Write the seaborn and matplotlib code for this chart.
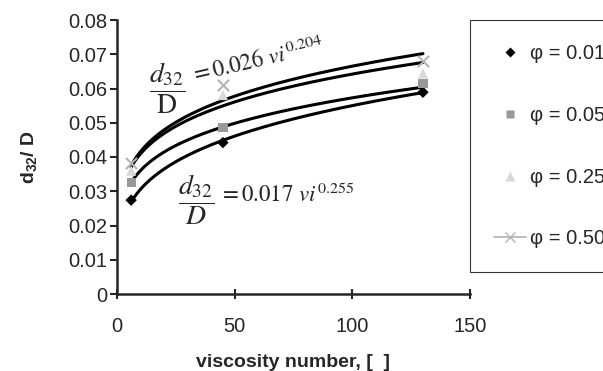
import numpy as np
import pandas as pd
import matplotlib
matplotlib.use("Agg")
import matplotlib.pyplot as plt
from matplotlib.lines import Line2D
import seaborn as sns

# === Data ===
vi = [6, 45, 130]
phi_labels = ["φ = 0.01", "φ = 0.05", "φ = 0.25", "φ = 0.50"]
d32_phi001 = [0.0274, 0.0442, 0.0589]
d32_phi005 = [0.0326, 0.0486, 0.0615]
d32_phi025 = [0.0360, 0.0581, 0.0644]
d32_phi050 = [0.0382, 0.0610, 0.0680]

# power-law trendline coefficients d32/D = a * vi^b
trend_a = [0.017, 0.0227, 0.0261, 0.026]
trend_b = [0.255, 0.201, 0.1955, 0.204]

series = [d32_phi001, d32_phi005, d32_phi025, d32_phi050]
markers = ["D", "s", "^", "x"]
colors = ["#000000", "#999999", "#d9d9d9", "#b3b3b3"]
sizes = [34, 44, 55, 65]

df = pd.concat(
    [pd.DataFrame({"vi": vi, "d32": s, "phi": lab}) for s, lab in zip(series, phi_labels)],
    ignore_index=True,
)

sns.set_style("ticks")
plt.rcParams["font.family"] = ["Liberation Sans", "DejaVu Sans"]
plt.rcParams["mathtext.fontset"] = "custom"
plt.rcParams["mathtext.rm"] = "Liberation Sans"
plt.rcParams["mathtext.bf"] = "Liberation Sans:bold"
plt.rcParams["mathtext.it"] = "Liberation Sans:italic"

fig = plt.figure(figsize=(6.03, 3.71), dpi=100)
ax = fig.add_axes([117 / 603, 1 - 294 / 371, (470 - 117) / 603, (294 - 20) / 371])

# trend curves
grid = np.linspace(vi[0], vi[-1], 200)
for a, b in zip(trend_a, trend_b):
    sns.lineplot(x=grid, y=a * grid ** b, ax=ax, color="black", lw=2.2, zorder=2)

# data points
for lab, m, c, s in zip(phi_labels, markers, colors, sizes):
    sub = df[df["phi"] == lab]
    if m == "x":
        ax.scatter(sub["vi"], sub["d32"], marker=m, s=s, color=c, linewidths=1.5, zorder=3)
    else:
        sns.scatterplot(data=sub, x="vi", y="d32", marker=m, s=s, color=c,
                        edgecolor="none", ax=ax, zorder=3, legend=False)

ax.set_xlim(0, 150)
ax.set_ylim(0, 0.08)
ax.set_xticks([0, 50, 100, 150])
ax.set_yticks(np.arange(0, 0.081, 0.01))
ax.set_yticklabels(["0"] + [f"{v:.2f}" for v in np.arange(0.01, 0.081, 0.01)])
sns.despine(ax=ax)
for sp in ["left", "bottom"]:
    ax.spines[sp].set_linewidth(1.8)
ax.tick_params(axis="y", direction="out", length=5, width=1.5, labelsize=14.5, pad=2)
ax.tick_params(axis="x", direction="inout", length=7, width=1.5, labelsize=14.5, pad=13)

ax.set_xlabel("viscosity number, [  ]", fontsize=14, fontweight="bold", labelpad=13)
ax.set_ylabel(r"$\mathbf{d_{32}/\ D}$", fontsize=14, labelpad=21)

# trendline equations
ax.text(21.5, 0.0601, r"$\dfrac{d_{32}}{\mathrm{D}}$", math_fontfamily="stix",
        fontsize=20, ha="center", va="center")
ax.text(59.5, 0.0680, r"$= 0.026\ vi^{0.204}$", math_fontfamily="stix",
        fontsize=16.5, ha="center", va="center", rotation=13)
ax.text(33.5, 0.0276, r"$\dfrac{d_{32}}{D}$", math_fontfamily="stix",
        fontsize=20, ha="center", va="center")
ax.text(72, 0.0290, r"$= 0.017\ vi^{0.255}$", math_fontfamily="stix",
        fontsize=16.5, ha="center", va="center")

# legend
handles = []
for lab, m, c in zip(phi_labels, markers, colors):
    if m == "x":
        handles.append(Line2D([], [], color=c, marker=m, markersize=7, lw=1.2, label=lab))
    else:
        ms = {"D": 5, "s": 6, "^": 7}[m]
        handles.append(Line2D([], [], color=c, marker=m, markersize=ms, lw=0,
                              markeredgecolor="none", label=lab))
leg = fig.legend(handles=handles, loc="upper left", bbox_to_anchor=(470 / 603, 1 - 20 / 371),
                 frameon=True, fancybox=False, fontsize=14.5, labelspacing=2.13,
                 borderpad=1.18, handlelength=1.6, handletextpad=0.2, borderaxespad=0)
leg.get_frame().set_edgecolor("black")
leg.get_frame().set_linewidth(0.8)

fig.savefig("out.png", dpi=100)
